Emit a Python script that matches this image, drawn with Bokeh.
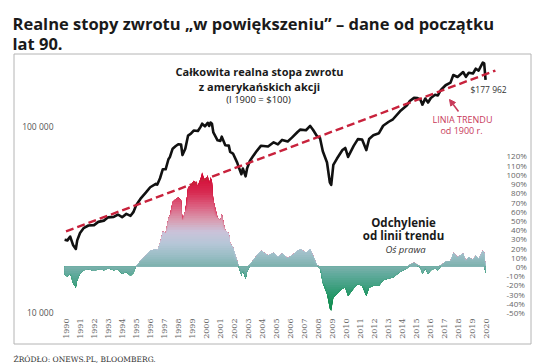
import numpy as np
from bokeh.plotting import figure
from bokeh.models import (Range1d, LinearAxis, LinearScale, FixedTicker, Label,
                          PolyAnnotation, Arrow, NormalHead)
from bokeh.embed import file_html
from bokeh.resources import INLINE

# ---------------- data ----------------
dates = [1989.9, 1990.1, 1990.3, 1990.5, 1990.7, 1990.8, 1991.0, 1991.25, 1991.6,
         1992.0, 1992.3, 1992.7, 1993.0, 1993.4, 1993.7, 1994.0, 1994.3, 1994.6, 1994.8,
         1995.0, 1995.3, 1995.7, 1996.0, 1996.4, 1996.5, 1996.7, 1996.9,
         1997.1, 1997.3, 1997.4, 1997.6, 1997.8, 1998.0, 1998.2, 1998.3, 1998.5, 1998.7, 1998.9,
         1999.1, 1999.4, 1999.6, 1999.7, 1999.9, 2000.1, 2000.2, 2000.3, 2000.4, 2000.5, 2000.8,
         2001.0, 2001.1, 2001.35, 2001.6, 2001.7, 2001.9, 2002.2, 2002.3, 2002.5, 2002.6, 2002.8, 2002.9,
         2003.1, 2003.3, 2003.6, 2003.9, 2004.4, 2004.8, 2005.1, 2005.4, 2005.8,
         2006.1, 2006.5, 2006.7, 2007.1, 2007.4, 2007.6, 2007.9,
         2008.1, 2008.3, 2008.6, 2008.8, 2008.9, 2009.05, 2009.3, 2009.7, 2009.9,
         2010.1, 2010.5, 2010.8, 2011.1, 2011.4, 2011.6, 2011.9, 2012.3, 2012.6,
         2013.0, 2013.3, 2013.8, 2014.3, 2014.5, 2014.8,
         2015.05, 2015.25, 2015.4, 2015.6, 2015.8, 2016.0, 2016.3, 2016.5, 2016.7,
         2017.05, 2017.4, 2017.6, 2017.9, 2018.3, 2018.5, 2018.7,
         2019.0, 2019.2, 2019.4, 2019.7, 2019.8, 2019.9]

total_return = [24640, 24420, 25580, 23090, 21970, 24410, 26770, 28400, 29360,
                29500, 30710, 31180, 32480, 32650, 33640, 32540, 33900, 33090, 34640,
                37750, 40800, 44230, 47140, 49190, 48670, 52690, 58950,
                58860, 66650, 68420, 76020, 78370, 80330, 79980, 70200, 75870, 89350, 91480,
                95150, 94510, 99820, 103550, 100220, 104710, 100620, 105020, 103550, 92880, 84260,
                83700, 88180, 79340, 78910, 73000, 71580, 63950, 60720, 55360, 59430, 53940, 59340,
                65240, 68690, 74000, 78860, 78010, 82200, 80160, 84710, 83120,
                87120, 93400, 96240, 95480, 100750, 96060, 88320,
                86840, 73610, 64070, 50070, 48540, 62210, 67060, 74720, 76710,
                68630, 78710, 85540, 85100, 74690, 85680, 89650, 92000, 100930,
                106050, 109380, 120670, 130000, 137090, 142510,
                142070, 139690, 131080, 141450, 134520, 142270, 148090, 146970, 156640,
                166620, 172100, 189150, 184490, 196330, 184940, 194430,
                192780, 204430, 199710, 220620, 218260, 177962]

deviation_pct = [-9, -11, -8, -18, -23, -15, -8, -4, -3,
                 -5, -3, -4, -2, -4, -3, -8, -6, -10, -7,
                 0, 6, 12, 17, 19, 17, 25, 38,
                 36, 52, 55, 70, 73, 75, 72, 50, 60, 86, 88,
                 93, 88, 96, 102, 93, 99, 90, 97, 93, 72, 53,
                 50, 57, 39, 36, 25, 21, 6, 0, -10, -4, -14, -6,
                 2, 6, 12, 17, 12, 15, 10, 14, 9,
                 12, 17, 19, 15, 19, 12, 1,
                 -2, -18, -30, -46, -48, -34, -30, -24, -23,
                 -32, -24, -19, -21, -32, -23, -21, -21, -15,
                 -13, -12, -6, -2, 2, 4,
                 2, -1, -8, -2, -8, -4, -2, -4, 1,
                 5, 6, 15, 10, 14, 6, 10,
                 7, 12, 8, 17, 15, -7]

trend_years = [1990.0, 2020.6]
trend_values = [27300, 200000]

year_ticks = list(range(1990, 2021))
year_labels = [str(y) for y in year_ticks]
left_ticks = [10000, 100000]
left_labels = ["10 000", "100 000"]
right_ticks = list(range(-50, 130, 10))
right_labels = ["\u2007" * max(0, 4 - len(f"{t}%")) + f"{t}%" for t in right_ticks]


# ---------------- layout: page pixel -> data coordinates ----------------
def X(px):
    return 1990 + (px - 65.5) / 14.033


def Y(py):
    return 10 ** (4 + (312 - py) / 186)


def P(py):
    return -50 + (312 - py) / 0.9206


W, H = 536, 364
PAGE_L, PAGE_T = 0, 0
PAGE_R, PAGE_B = PAGE_L + W, PAGE_T + H

p = figure(width=W, height=H,
           x_range=Range1d(X(PAGE_L), X(PAGE_R)),
           y_range=Range1d(Y(PAGE_B), Y(PAGE_T)), y_axis_type="log",
           output_backend="svg", toolbar_location=None,
           min_border_left=0, min_border_right=0, min_border_top=0, min_border_bottom=0)
p.title.visible = False
p.outline_line_color = None
p.grid.visible = False
p.background_fill_color = "white"
p.border_fill_color = "white"
p.extra_y_ranges = {"pct": Range1d(P(PAGE_B), P(PAGE_T))}
p.extra_y_scales = {"pct": LinearScale()}

# bordered chart box
BOX_L, BOX_R, BOX_T, BOX_B = 13.5, 530.5, 53.5, 343.5
p.add_layout(PolyAnnotation(xs=[X(BOX_L), X(BOX_R), X(BOX_R), X(BOX_L)],
                            ys=[Y(BOX_T), Y(BOX_T), Y(BOX_B), Y(BOX_B)],
                            fill_alpha=0, line_color="#b4b4b4", line_alpha=1,
                            line_width=1))

# ---------------- deviation area with vertical colour gradient ----------------
stops_pct = [-50, -30, -10, 0, 10, 25, 38, 50, 65, 80, 100]
stops_col = ["#0b8a48", "#2a9a6e", "#5ea99a", "#7cb1ad", "#97bdc3", "#b6c7d8",
             "#cbc3da", "#d99eb2", "#dc6282", "#d82c52", "#d40a34"]
stops_rgb = np.array([[int(c[i:i + 2], 16) for i in (1, 3, 5)] for c in stops_col], float)


def color_at(v):
    r, g, b = (np.interp(v, stops_pct, stops_rgb[:, k]) for k in range(3))
    return "#%02x%02x%02x" % (int(r), int(g), int(b))


dev = np.array(deviation_pct, float)
pos = np.maximum(dev, 0)
neg = np.minimum(dev, 0)
step = 2.5
for hi in np.arange(107.5, 0, -step):
    p.varea(x=dates, y1=np.minimum(pos, hi), y2=0, y_range_name="pct",
            fill_color=color_at(hi - step / 2))
for lo in np.arange(-55, 0, step):
    p.varea(x=dates, y1=np.maximum(neg, lo), y2=0, y_range_name="pct",
            fill_color=color_at(lo + step / 2))

# ---------------- lines ----------------
p.line(dates, total_return, line_color="#111111", line_width=2.6, line_join="round")
p.line(trend_years, trend_values, line_color="#c8223c", line_width=2.4, line_dash="8 4")

# ---------------- axes (labels pulled inside the canvas) ----------------
FONT = "Open Sans"


def plain(ax):
    ax.axis_line_color = None
    ax.major_tick_line_color = None
    ax.minor_tick_line_color = None
    ax.major_tick_out = 0
    ax.major_tick_in = 0
    ax.minor_tick_out = 0
    ax.minor_tick_in = 0


xa = p.xaxis[0]
plain(xa)
xa.ticker = FixedTicker(ticks=year_ticks)
xa.major_label_overrides = dict(zip(year_ticks, year_labels))
xa.major_label_orientation = np.pi / 2
xa.major_label_text_font = "DejaVu Serif"
xa.major_label_text_font_size = "8px"
xa.major_label_text_color = "#666666"
xa.major_label_standoff = -(PAGE_B - 318)

ya = p.yaxis[0]
plain(ya)
ya.ticker = FixedTicker(ticks=left_ticks)
ya.major_label_overrides = dict(zip(left_ticks, left_labels))
ya.major_label_text_font = FONT
ya.major_label_text_font_size = "8.5px"
ya.major_label_text_color = "#555555"
ya.major_label_standoff = -(53 - PAGE_L)

ra = LinearAxis(y_range_name="pct", ticker=FixedTicker(ticks=right_ticks))
plain(ra)
ra.major_label_overrides = dict(zip(right_ticks, right_labels))
ra.major_label_text_font = FONT
ra.major_label_text_font_size = "8px"
ra.major_label_text_color = "#666666"
ra.major_label_standoff = -(PAGE_R - 506)
p.add_layout(ra, "right")


def add_text(txt, px, py, size, color="#1a1a1a", style="normal", align="center",
             baseline="middle", font=FONT):
    p.add_layout(Label(x=X(px), y=Y(py), text=txt,
                       text_font=font, text_font_size=f"{size}px", text_font_style=style,
                       text_color=color, text_align=align, text_baseline=baseline))


add_text("Realne stopy zwrotu „w powiększeniu” – dane od początku", 12, 23, 16.5,
         style="bold", align="left", baseline="alphabetic")
add_text("lat 90.", 12, 43, 16.5, style="bold", align="left", baseline="alphabetic")

add_text("Całkowita realna stopa zwrotu", 259, 71, 11, style="bold")
add_text("z amerykańskich akcji", 259, 85.5, 11, style="bold")
add_text("(I 1900 = $100)", 258, 98.5, 9.5)

add_text("$177 962", 470, 89, 8.5, color="#333333", align="left")
add_text("LINIA TRENDU", 462, 118.5, 9, color="#c83a5a")
add_text("od 1900 r.", 461, 130, 9, color="#c83a5a")

add_text("Odchylenie", 403, 222, 11.5, style="bold")
add_text("od linii trendu", 403, 235, 11.5, style="bold")
add_text("Oś prawa", 405, 248.5, 9.5, style="italic", color="#333333")

add_text("ŹRÓDŁO: ONEWS.PL, BLOOMBERG.", 13, 359, 7.5, color="#333333", align="left",
         baseline="alphabetic", font="DejaVu Serif")

p.add_layout(Arrow(end=NormalHead(size=6, fill_color="#c83a5a", line_color="#c83a5a"),
                   x_start=X(458), y_start=Y(111), x_end=X(449), y_end=Y(99),
                   line_color="#c83a5a", line_width=1.5))

open("out.html", "w").write(file_html(p, INLINE))
